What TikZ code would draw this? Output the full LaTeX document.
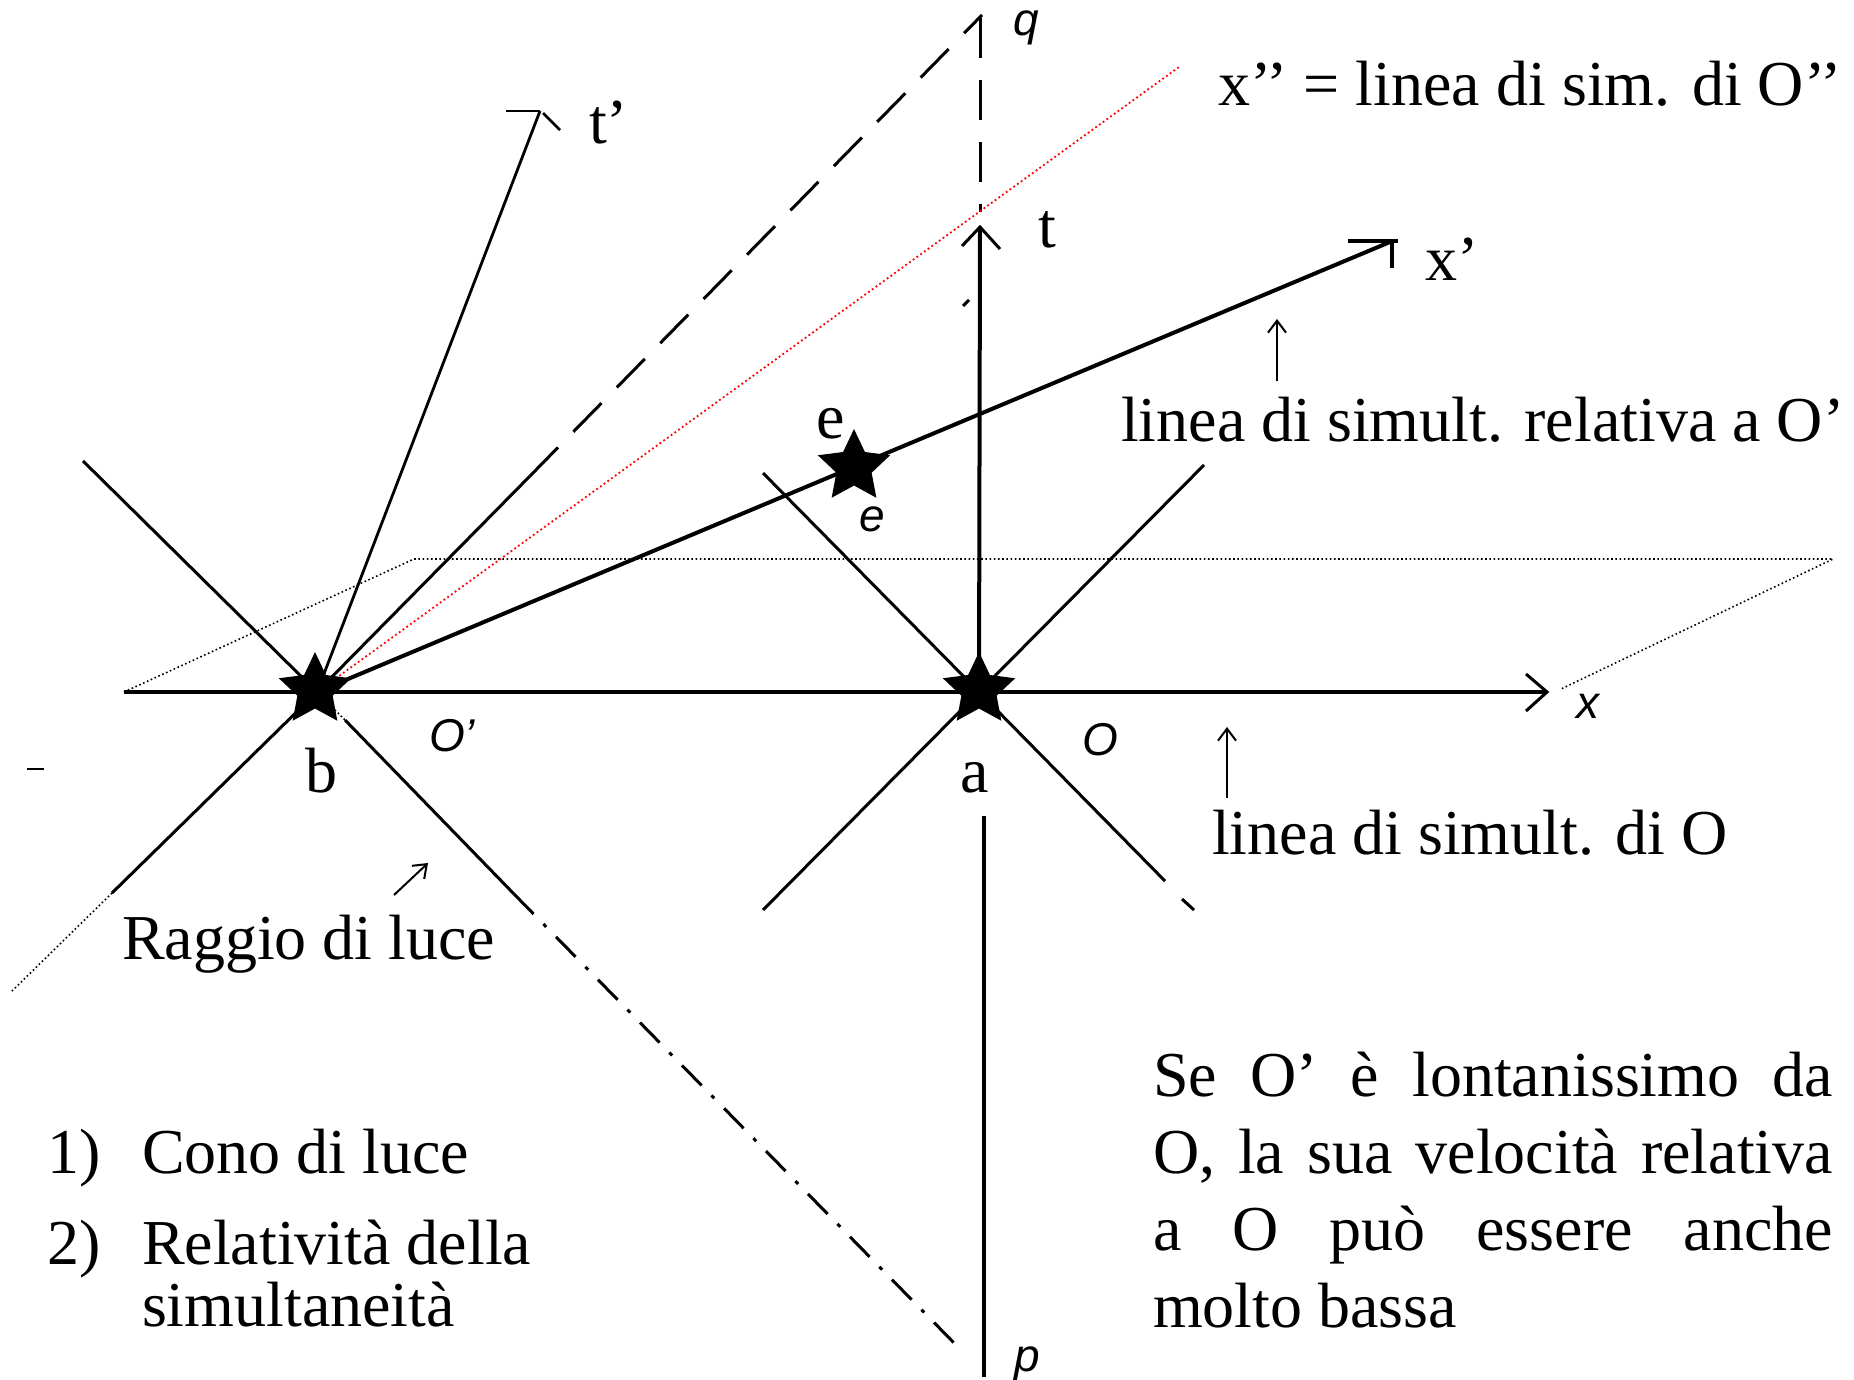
\documentclass[tikz,border=0pt]{standalone}
\usepackage{fontspec}
\setmainfont{Liberation Serif}
\newfontfamily\lblfont{Liberation Sans}
\usetikzlibrary{shapes.geometric,arrows.meta}
\begin{document}
\begin{tikzpicture}[x=1pt,y=-1pt,
  every node/.style={inner sep=0pt,outer sep=0pt,font=\fontsize{64}{77}\selectfont},
  axisline/.style={line width=4pt},
  coneline/.style={line width=3pt},
  thinline/.style={line width=2.8pt},
  dotline/.style={line width=1.6pt,dash pattern=on 1.6pt off 2.6pt},
  reddot/.style={line width=1.8pt,red,dash pattern=on 1.8pt off 2.8pt},
  longdash/.style={line width=3pt,dash pattern=on 40pt off 22pt},
  dashdotline/.style={line width=3pt,dash pattern=on 28pt off 14pt on 4pt off 14pt},
  evstar/.style={star,star points=5,star point ratio=2.05,fill=black,draw=none,minimum size=76pt},
  smalllbl/.style={font=\lblfont\itshape\fontsize{46}{52}\selectfont},
  notearrow/.style={line width=2pt,-{Straight Barb[length=12pt,width=18pt,line width=2pt]}},
  txt/.style={anchor=base west}
]
\useasboundingbox (0,0) rectangle (1854,1380);

% key points
\coordinate (a) at (979,692);
\coordinate (b) at (317,692);

% dotted parallelogram
\coordinate (p1) at (124,692);
\coordinate (p2) at (414,559);
\coordinate (p3) at (1833,559);
\coordinate (p4) at (1561,689);
\draw[dotline] (p1) -- (p2) -- (p3) -- (p4);

% x axis
\coordinate (xe) at (1547,692);
\draw[axisline] (p1) -- (xe);
\coordinate (xa1) at (1526,674);
\coordinate (xa2) at (1526,711);
\draw[line width=3pt] (xa1) -- (xe) -- (xa2);

% vertical axis through a
\coordinate (vtop) at (980,18);
\coordinate (tt) at (980,227);
\coordinate (vbr) at (980,212);
\draw[longdash] (vtop) -- (vbr);
\draw[axisline] (tt) -- (a);
\coordinate (ta1) at (962,246);
\coordinate (ta2) at (1000,249);
\draw[line width=3pt] (ta1) -- (tt) -- (ta2);
\coordinate (tk1) at (963,306);
\coordinate (tk2) at (969,300);
\draw[line width=3pt] (tk1) -- (tk2);
\coordinate (vb1) at (984,816);
\coordinate (vb2) at (984,1377);
\draw[axisline] (vb1) -- (vb2);

% light cone of b
\coordinate (bul) at (83,461);
\coordinate (bdl) at (112,893);
\coordinate (bdl2) at (12,991);
\coordinate (bur) at (530,476);
\coordinate (bur2) at (982,15);
\coordinate (bdr0) at (345,720);
\coordinate (bdr) at (514,894);
\coordinate (bdr2) at (958,1347);
\draw[coneline] (b) -- (bul);
\draw[coneline] (b) -- (bdl);
\draw[dotline] (bdl) -- (bdl2);
\draw[coneline] (b) -- (bur);
\draw[longdash] (bur) -- (bur2);
\draw[dotline] (b) -- (bdr0);
\draw[coneline] (bdr0) -- (bdr);
\draw[dashdotline] (bdr) -- (bdr2);

% light cone of a
\coordinate (aul) at (763,473);
\coordinate (aur) at (1204,465);
\coordinate (adl) at (763,910);
\coordinate (adr) at (1165,881);
\coordinate (adr2) at (1182,899);
\coordinate (adr3) at (1194,910);
\draw[coneline] (a) -- (aul);
\draw[coneline] (a) -- (aur);
\draw[coneline] (a) -- (adl);
\draw[coneline] (a) -- (adr);
\draw[coneline] (adr2) -- (adr3);

% t' axis
\coordinate (tp) at (540,111);
\coordinate (tpbar) at (506,111);
\coordinate (tpk1) at (543,113);
\coordinate (tpk2) at (560,130);
\draw[thinline] (b) -- (tp);
\draw[thinline] (tpbar) -- (tp);
\draw[thinline] (tpk1) -- (tpk2);

% x' axis
\coordinate (xp) at (1390,242);
\coordinate (xpbar1) at (1348,241);
\coordinate (xpbar2) at (1398,241);
\coordinate (xpk0) at (1392,241);
\coordinate (xpk) at (1392,268);
\draw[axisline] (b) -- (xp);
\draw[line width=4pt] (xpbar1) -- (xpbar2);
\draw[line width=4pt] (xpk0) -- (xpk);

% red x'' line
\coordinate (xpp) at (1179,67);
\draw[reddot] (b) -- (xpp);

% stars
\node[evstar] (sa) at (979,690) {};
\node[evstar] (sb) at (315,690) {};
\node[evstar] (se) at (854,467) {};

% small dash at left
\coordinate (m1) at (27,769);
\coordinate (m2) at (44,769);
\draw[line width=2pt] (m1) -- (m2);

% small italic labels
\node[smalllbl] (lq) at (1026,28) {q};
\node[smalllbl] (lp) at (1027,1364) {p};
\node[smalllbl] (lx) at (1588,706) {x};
\node[smalllbl] (lee) at (872,519) {e};
\node[smalllbl] (lop) at (452,736) {O’};
\node[smalllbl] (lo) at (1100,740) {O};

% labels
\node[txt] (ltp) at (589,144) {t’};
\node[txt] (lt) at (1038,248) {t};
\node[txt] (lxp) at (1425,280) {x’};
\node[txt] (le) at (816,438) {e};
\node[txt] (lb) at (305,792) {b};
\node[txt] (la) at (960,792) {a};
\node[txt] (lxpp) at (1218,106) {x’’ = linea di sim. di O’’};
\node[txt] (lrel) at (1121,441) {linea di simult. relativa a O’};
\node[txt] (lsim) at (1212,854) {linea di simult. di O};
\node[txt] (lrag) at (122,959) {Raggio di luce};

% annotation arrows
\coordinate (n1a) at (1277,381);
\coordinate (n1b) at (1277,319);
\draw[notearrow] (n1a) -- (n1b);
\coordinate (n2a) at (1227,798);
\coordinate (n2b) at (1227,727);
\draw[notearrow] (n2a) -- (n2b);
\coordinate (n3a) at (394,895);
\coordinate (n3b) at (428,863);
\draw[notearrow] (n3a) -- (n3b);

% list
\node[txt] (i1) at (47,1173) {1)};
\node[txt] (i1t) at (142,1173) {Cono di luce};
\node[txt] (i2) at (47,1264) {2)};
\node[txt] (i2t) at (142,1264) {Relatività della};
\node[txt] (i2u) at (142,1326) {simultaneità};

% right block
\node[txt] (r1) at (1153,1096) {\hbox to 680pt{Se\hfill O’\hfill è\hfill lontanissimo\hfill da}};
\node[txt] (r2) at (1153,1173) {\hbox to 680pt{O,\hfill la\hfill sua\hfill velocità\hfill relativa}};
\node[txt] (r3) at (1153,1250) {\hbox to 680pt{a\hfill O\hfill può\hfill essere\hfill anche}};
\node[txt] (r4) at (1153,1327) {molto bassa};
\end{tikzpicture}
\end{document}
